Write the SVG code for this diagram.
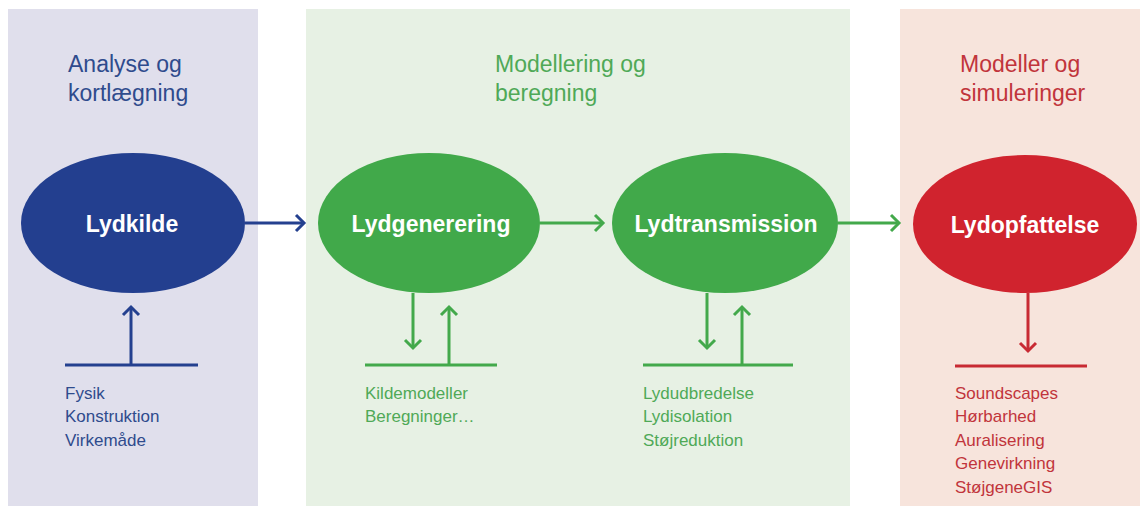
<svg xmlns="http://www.w3.org/2000/svg" width="1145" height="506" viewBox="0 0 1145 506">
<style>
text{font-family:"Liberation Sans","Noto Sans",Arial,sans-serif}
.title{font-size:23px}
.lab{font-size:23px;font-weight:bold;fill:#ffffff;text-anchor:middle}
.sub{font-size:17px}
.b{fill:#2f4b8d}
.g{fill:#4fa957}
.r{fill:#c1343b}
.lb{stroke:#24408f;stroke-width:3;fill:none}
.lg{stroke:#43a94b;stroke-width:3;fill:none}
.lr{stroke:#c82a33;stroke-width:3;fill:none}
</style>
<defs>
<marker id="ab" viewBox="-10 -10 20 20" markerWidth="20" markerHeight="20" markerUnits="userSpaceOnUse" refX="0" refY="0" orient="auto"><path d="M-8,-8 L0,0 L-8,8" fill="none" stroke="#24408f" stroke-width="3"/></marker>
<marker id="ag" viewBox="-10 -10 20 20" markerWidth="20" markerHeight="20" markerUnits="userSpaceOnUse" refX="0" refY="0" orient="auto"><path d="M-8,-8 L0,0 L-8,8" fill="none" stroke="#43a94b" stroke-width="3"/></marker>
<marker id="ar" viewBox="-10 -10 20 20" markerWidth="20" markerHeight="20" markerUnits="userSpaceOnUse" refX="0" refY="0" orient="auto"><path d="M-8,-8 L0,0 L-8,8" fill="none" stroke="#c82a33" stroke-width="3"/></marker>
</defs>
<rect width="1145" height="506" fill="#ffffff"/>
<g id="panels">
<rect x="8" y="9" width="250" height="497" fill="#e0dfec"/>
<rect x="306" y="9" width="544" height="497" fill="#e7f1e4"/>
<rect x="900" y="9" width="240" height="497" fill="#f7e4dc"/>
</g>
<g id="titles">
<text class="title b" x="68" y="72">Analyse og</text>
<text class="title b" x="68" y="101">kortlægning</text>
<text class="title g" x="495" y="72">Modellering og</text>
<text class="title g" x="495" y="101">beregning</text>
<text class="title r" x="960" y="72">Modeller og</text>
<text class="title r" x="960" y="101">simuleringer</text>
</g>
<g id="connectors">
<line class="lb" x1="245" y1="223" x2="304" y2="223" marker-end="url(#ab)"/>
<line class="lg" x1="540" y1="223" x2="603" y2="223" marker-end="url(#ag)"/>
<line class="lg" x1="838" y1="223" x2="899" y2="223" marker-end="url(#ag)"/>
<line class="lb" x1="131" y1="365" x2="131" y2="307" marker-end="url(#ab)"/>
<line class="lb" x1="65" y1="365" x2="198" y2="365"/>
<line class="lg" x1="413" y1="293" x2="413" y2="348" marker-end="url(#ag)"/>
<line class="lg" x1="449" y1="365" x2="449" y2="307" marker-end="url(#ag)"/>
<line class="lg" x1="365" y1="365" x2="497" y2="365"/>
<line class="lg" x1="707" y1="293" x2="707" y2="348" marker-end="url(#ag)"/>
<line class="lg" x1="742" y1="365" x2="742" y2="307" marker-end="url(#ag)"/>
<line class="lg" x1="643" y1="365" x2="793" y2="365"/>
<line class="lr" x1="1028" y1="293" x2="1028" y2="351" marker-end="url(#ar)"/>
<line class="lr" x1="955" y1="366" x2="1087" y2="366"/>
</g>
<g id="lydkilde">
<ellipse cx="133" cy="223" rx="112" ry="70" fill="#233f8f"/>
<text class="lab" x="132" y="232">Lydkilde</text>
<text class="sub b" x="65" y="399">Fysik</text>
<text class="sub b" x="65" y="422">Konstruktion</text>
<text class="sub b" x="65" y="446">Virkemåde</text>
</g>
<g id="lydgenerering">
<ellipse cx="429" cy="223" rx="111" ry="70" fill="#41a94a"/>
<text class="lab" x="431" y="232">Lydgenerering</text>
<text class="sub g" x="365" y="399">Kildemodeller</text>
<text class="sub g" x="365" y="422">Beregninger…</text>
</g>
<g id="lydtransmission">
<ellipse cx="725" cy="223" rx="113" ry="70" fill="#41a94a"/>
<text class="lab" x="726" y="232">Lydtransmission</text>
<text class="sub g" x="643" y="399">Lydudbredelse</text>
<text class="sub g" x="643" y="422">Lydisolation</text>
<text class="sub g" x="643" y="446">Støjreduktion</text>
</g>
<g id="lydopfattelse">
<ellipse cx="1025" cy="224" rx="112" ry="69" fill="#d0232e"/>
<text class="lab" x="1025" y="233">Lydopfattelse</text>
<text class="sub r" x="955" y="399">Soundscapes</text>
<text class="sub r" x="955" y="422">Hørbarhed</text>
<text class="sub r" x="955" y="446">Auralisering</text>
<text class="sub r" x="955" y="469">Genevirkning</text>
<text class="sub r" x="955" y="493">StøjgeneGIS</text>
</g>
</svg>
